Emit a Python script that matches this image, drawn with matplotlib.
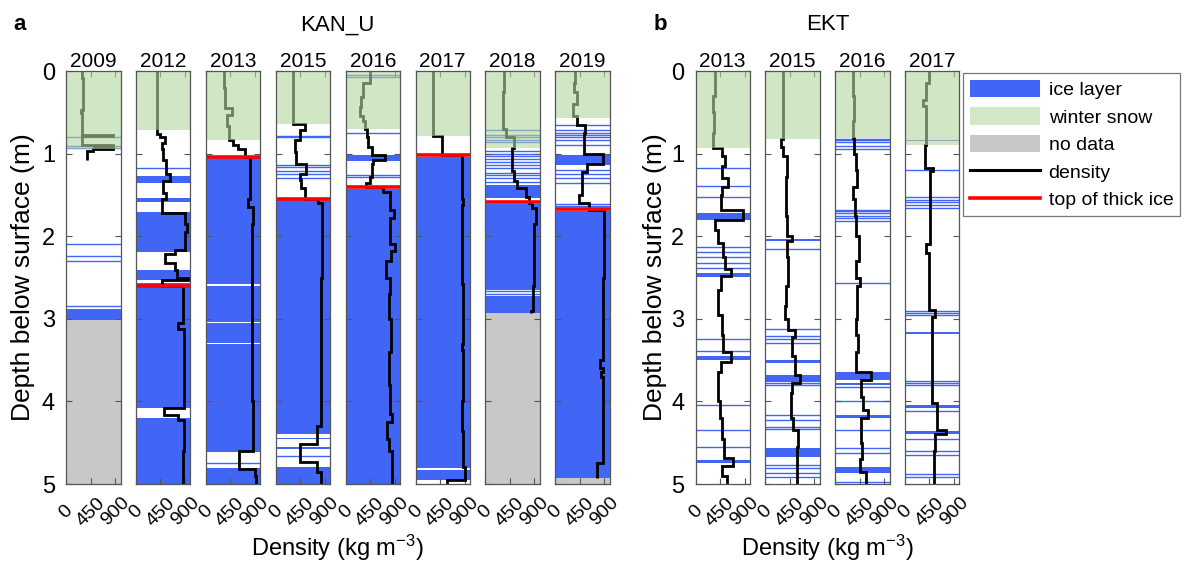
import matplotlib
matplotlib.use('Agg')
import matplotlib.pyplot as plt
import matplotlib.transforms as mtransforms
from matplotlib.patches import Patch
from matplotlib.lines import Line2D

plt.rcParams['font.family'] = ['Liberation Sans', 'DejaVu Sans']
plt.rcParams['mathtext.default'] = 'regular'

# ---------------- data ----------------
kan_years = ['2009', '2012', '2013', '2015', '2016', '2017', '2018', '2019']
kan_snow = [0.95, 0.71, 0.835, 0.64, 0.70, 0.79, 0.93, 0.565]
kan_thick_ice = [None, 2.60, 1.04, 1.55, 1.41, 1.02, 1.59, 1.675]
kan_nodata = [3.01, None, None, None, None, None, 2.93, 4.93]

kan2009_z = [0, 0.09, 0.19, 0.47, 0.51, 0.77, 0.79, 0.90, 0.915, 0.93, 0.95, 0.97, 1.08]
kan2009_rho = [293, 305, 317, 274, 300, 866, 300, 866, 520, 866, 500, 380]
kan2009_blocks = [[2.885, 3.01]]
kan2009_thin = [0.795, 0.905, 0.93, 2.09, 2.245, 2.30, 2.84]

kan2012_z = [0, 0.76, 0.80, 0.87, 0.95, 1.08, 1.25, 1.33, 1.48, 1.55, 1.72, 1.85, 1.95, 2.17,
             2.22, 2.33, 2.41, 2.50, 2.53, 2.60, 3.05, 3.12, 4.08, 4.16, 4.22, 4.6, 5.0]
kan2012_rho = [378, 440, 540, 470, 500, 560, 620, 490, 560, 470, 900, 930, 900, 720, 530, 720,
               760, 980, 470, 870, 770, 880, 520, 770, 880, 870]
kan2012_blocks = [[1.27, 1.35], [1.54, 1.59], [1.71, 2.19], [2.41, 2.53], [2.57, 2.59], [2.62, 4.08], [4.20, 5.0]]
kan2012_thin = [1.17]

kan2013_z = [0, 0.2, 0.45, 0.53, 0.66, 0.83, 0.9, 0.95, 1.04, 1.55, 1.65, 1.85, 3.0, 4.0, 4.6, 4.82, 4.9, 5.0]
kan2013_rho = [330, 345, 480, 390, 420, 500, 590, 720, 810, 780, 870, 850, 840, 860, 610, 900, 920]
kan2013_blocks = [[1.05, 2.58], [2.60, 3.04], [3.055, 3.29], [3.305, 4.61], [4.81, 5.0]]
kan2013_thin = [4.745]

kan2015_z = [0, 0.64, 0.72, 0.84, 0.98, 1.12, 1.25, 1.32, 1.42, 1.55, 1.6, 2.5, 3.2, 4.3, 4.52, 4.73, 4.85, 5.0]
kan2015_rho = [323, 540, 445, 360, 380, 560, 440, 470, 530, 780, 850, 840, 830, 750, 450, 760, 830]
kan2015_blocks = [[1.56, 4.40], [4.44, 4.46], [4.55, 4.58], [4.80, 5.0]]
kan2015_thin = [0.785, 0.80, 1.135, 1.165, 1.205, 1.245, 1.295, 4.66]

kan2016_z = [0, 0.15, 0.31, 0.43, 0.55, 0.61, 0.70, 0.80, 0.92, 1.02, 1.08, 1.13, 1.28, 1.36, 1.41,
             1.47, 1.68, 1.78, 2.10, 2.18, 2.30, 2.50, 2.70, 3.0, 3.4, 3.8, 4.15, 4.25, 4.45, 4.60, 5.0]
kan2016_rho = [450, 325, 290, 260, 320, 350, 390, 420, 480, 720, 510, 480, 450, 370, 690, 810, 880,
               820, 900, 840, 750, 820, 800, 830, 790, 820, 850, 760, 800, 850]
kan2016_blocks = [[1.02, 1.09], [1.43, 5.0]]
kan2016_thin = [0.045, 0.075, 0.755, 1.265, 1.285]

kan2017_z = [0, 0.79, 1.02, 1.55, 1.62, 2.5, 2.58, 3.3, 3.38, 4.0, 4.3, 4.36, 4.8, 4.95, 5.0]
kan2017_rho = [315, 485, 860, 880, 860, 850, 880, 860, 880, 860, 850, 880, 900, 570]
kan2017_blocks = [[1.04, 4.81], [4.835, 4.95]]
kan2017_thin = []

kan2018_z = [0, 0.25, 0.7, 0.8, 0.93, 1.21, 1.33, 1.42, 1.52, 1.60, 1.66, 1.85, 2.6, 2.9, 2.93]
kan2018_rho = [337, 330, 370, 520, 490, 530, 580, 740, 800, 860, 920, 890, 870, 840]
kan2018_blocks = [[1.38, 1.54], [1.61, 2.65], [2.72, 2.93]]
kan2018_thin = [0.71, 0.77, 0.80, 0.83, 0.86, 0.97, 1.0, 1.03, 1.06, 1.10, 1.14, 1.18,
                1.23, 1.26, 1.30, 1.34, 2.665, 2.695]

kan2019_z = [0, 0.15, 0.25, 0.40, 0.55, 0.65, 0.75, 1.0, 1.12, 1.22, 1.50, 1.60, 1.68, 2.5,
             3.5, 3.6, 3.65, 3.7, 4.75, 4.93]
kan2019_rho = [368, 340, 400, 330, 390, 550, 520, 880, 580, 490, 440, 620, 890, 880, 820, 870, 830, 880, 770]
kan2019_blocks = [[1.02, 1.14], [1.69, 4.93]]
kan2019_thin = [0.65, 0.71, 0.75, 0.77, 0.80, 0.83, 0.89, 1.20, 1.25, 1.29, 1.35, 1.61, 1.63]

ekt_years = ['2013', '2015', '2016', '2017']
ekt_snow = [0.93, 0.82, 0.815, 0.90]

ekt2013_z = [0, 0.3, 0.5, 0.75, 0.93, 1.03, 1.15, 1.3, 1.4, 1.5, 1.68, 1.8, 1.92, 2.08, 2.25, 2.4,
             2.48, 2.65, 2.95, 3.2, 3.4, 3.52, 3.65, 4.0, 4.2, 4.45, 4.68, 4.78, 4.9, 5.0]
ekt2013_rho = [350, 330, 340, 330, 480, 540, 480, 600, 480, 460, 880, 360, 410, 500, 550, 660, 460,
               420, 480, 510, 660, 460, 420, 450, 490, 520, 680, 480, 570]
ekt2013_blocks = [[1.72, 1.80], [2.44, 2.49], [3.45, 3.50], [4.71, 4.75]]
ekt2013_thin = [1.17, 1.39, 1.52, 2.13, 2.19, 2.25, 2.32, 2.39, 3.25, 3.39, 4.04, 4.35, 4.55]

ekt2015_z = [0, 0.82, 0.92, 1.03, 1.28, 1.75, 2.0, 2.06, 2.25, 2.6, 2.85, 3.0, 3.13, 3.22, 3.45,
             3.68, 3.78, 3.9, 4.2, 4.35, 4.55, 5.0]
ekt2015_rho = [333, 280, 330, 400, 380, 400, 490, 400, 420, 380, 360, 420, 540, 490, 540, 640, 490,
               470, 500, 600, 580]
ekt2015_blocks = [[2.03, 2.06], [3.50, 3.53], [3.68, 3.76], [4.57, 4.67]]
ekt2015_thin = [2.15, 3.12, 3.21, 3.24, 3.29, 3.78, 3.80, 4.16, 4.22, 4.31, 4.33, 4.77, 4.81, 4.87, 4.92]

ekt2016_z = [0, 0.3, 0.6, 0.81, 1.0, 1.2, 1.4, 1.55, 1.75, 2.0, 2.3, 2.5, 2.6, 3.0, 3.2, 3.4, 3.64,
             3.74, 3.95, 4.1, 4.2, 4.5, 4.7, 4.85, 5.0]
ekt2016_rho = [320, 340, 330, 350, 380, 400, 330, 360, 380, 430, 380, 450, 400, 380, 420, 380, 660,
               470, 520, 600, 480, 500, 460, 560]
ekt2016_blocks = [[3.64, 3.74], [3.78, 3.80], [4.17, 4.20], [4.80, 4.87]]
ekt2016_thin = [0.82, 0.84, 0.86, 0.91, 0.94, 1.68, 1.70, 1.72, 1.75, 1.78, 1.81, 2.57, 3.83,
                4.0, 4.35, 4.57, 4.62, 4.97]

ekt2017_z = [0, 0.15, 0.35, 0.42, 0.9, 1.18, 1.21, 2.1, 2.2, 2.89, 2.98, 4.02, 4.35, 4.40, 4.6, 5.0]
ekt2017_rho = [450, 380, 330, 380, 360, 520, 460, 380, 450, 550, 490, 580, 760, 560, 540]
ekt2017_blocks = [[0.83, 0.85], [3.16, 3.19], [4.04, 4.08], [4.36, 4.40]]
ekt2017_thin = [1.2, 1.53, 1.56, 1.58, 1.62, 1.66, 2.90, 2.93, 2.96, 3.75, 3.78, 3.80, 4.12,
                4.45, 4.60, 4.65, 4.88, 4.92]

kan_profiles = [(kan2009_z, kan2009_rho, kan2009_blocks, kan2009_thin),
                (kan2012_z, kan2012_rho, kan2012_blocks, kan2012_thin),
                (kan2013_z, kan2013_rho, kan2013_blocks, kan2013_thin),
                (kan2015_z, kan2015_rho, kan2015_blocks, kan2015_thin),
                (kan2016_z, kan2016_rho, kan2016_blocks, kan2016_thin),
                (kan2017_z, kan2017_rho, kan2017_blocks, kan2017_thin),
                (kan2018_z, kan2018_rho, kan2018_blocks, kan2018_thin),
                (kan2019_z, kan2019_rho, kan2019_blocks, kan2019_thin)]
ekt_profiles = [(ekt2013_z, ekt2013_rho, ekt2013_blocks, ekt2013_thin),
                (ekt2015_z, ekt2015_rho, ekt2015_blocks, ekt2015_thin),
                (ekt2016_z, ekt2016_rho, ekt2016_blocks, ekt2016_thin),
                (ekt2017_z, ekt2017_rho, ekt2017_blocks, ekt2017_thin)]

# ---------------- style ----------------
W, H = 1198, 569
ICE = '#4166f5'
SNOW = '#b2d69e'
SNOW_ALPHA = 0.6
GRAY = '#c8c8c8'
SPINE = '#555555'
TOP_PX, BOT_PX = 71, 484
PANEL_W = 54.5

fig = plt.figure(figsize=(W / 100, H / 100), dpi=100)
label_shift = mtransforms.ScaledTranslation(-3 / 100, 0, fig.dpi_scale_trans)


def add_panel(left_px, year, prof, snow, top_ice, nodata, first):
    z, rho, blocks, thin = prof
    ax = fig.add_axes([left_px / W, 1 - BOT_PX / H, PANEL_W / W, (BOT_PX - TOP_PX) / H])
    for a, b in blocks:
        ax.axhspan(a, b, facecolor=ICE, edgecolor='none', lw=0, zorder=1)
    for d in thin:
        ax.axhline(d, color=ICE, lw=1.0, zorder=1)
    if nodata is not None:
        ax.axhspan(nodata, 5, facecolor=GRAY, edgecolor='none', lw=0, zorder=1)
    ax.stairs(rho, z, orientation='horizontal', baseline=None, color='k', lw=2.0, zorder=2)
    ax.axhspan(0, snow, facecolor=SNOW, edgecolor='none', alpha=SNOW_ALPHA, lw=0, zorder=3)
    if top_ice is not None:
        ax.axhline(top_ice, color='#ff0000', lw=2.6, zorder=4)
    ax.set_xlim(0, 1000)
    ax.set_ylim(5, 0)
    ax.set_xticks([0, 450, 900])
    ax.set_xticklabels(['0', '450', '900'], rotation=45, ha='center', va='center',
                       rotation_mode='anchor', fontsize=14)
    for lab in ax.get_xticklabels():
        lab.set_transform(lab.get_transform() + label_shift)
    ax.set_yticks([0, 1, 2, 3, 4, 5])
    if first:
        ax.set_yticklabels(['0', '1', '2', '3', '4', '5'], fontsize=17)
    else:
        ax.set_yticklabels([])
    ax.tick_params(axis='both', direction='in', length=4, width=0.8, color=SPINE,
                   top=True, right=True)
    ax.tick_params(axis='x', pad=20)
    ax.tick_params(axis='y', pad=8)
    for s in ax.spines.values():
        s.set_color(SPINE)
        s.set_linewidth(0.9)
        s.set_zorder(5)
    ax.set_title(year, fontsize=15, pad=3)
    return ax


kan_left = [66 + 69.9 * i for i in range(len(kan_years))]
for i, yr in enumerate(kan_years):
    add_panel(kan_left[i], yr, kan_profiles[i], kan_snow[i], kan_thick_ice[i], kan_nodata[i], i == 0)

ekt_left = [695.5 + 69.8 * i for i in range(len(ekt_years))]
for i, yr in enumerate(ekt_years):
    add_panel(ekt_left[i], yr, ekt_profiles[i], ekt_snow[i], None, None, i == 0)

# group labels
fig.text(337.75 / W, 1 - 25 / H, 'KAN_U', ha='center', va='center', fontsize=16)
fig.text(827.5 / W, 1 - 25 / H, 'EKT', ha='center', va='center', fontsize=16)
fig.text(20 / W, 1 - 25 / H, 'a', ha='center', va='center', fontsize=16, fontweight='bold')
fig.text(660 / W, 1 - 25 / H, 'b', ha='center', va='center', fontsize=16, fontweight='bold')
fig.text(23 / W, 1 - 277 / H, 'Depth below surface (m)', rotation=90, ha='center', va='center', fontsize=19)
fig.text(655 / W, 1 - 277 / H, 'Depth below surface (m)', rotation=90, ha='center', va='center', fontsize=19)
fig.text(337.75 / W, 1 - 548 / H, 'Density (kg m$^{-3}$)', ha='center', va='center', fontsize=17)
fig.text(827.5 / W, 1 - 548 / H, 'Density (kg m$^{-3}$)', ha='center', va='center', fontsize=17)

handles = [Patch(facecolor=ICE, edgecolor='none'),
           Patch(facecolor='#d3e6c8', edgecolor='none'),
           Patch(facecolor=GRAY, edgecolor='none'),
           Line2D([], [], color='k', lw=2.2),
           Line2D([], [], color='#ff0000', lw=2.6)]
labels = ['ice layer', 'winter snow', 'no data', 'density', 'top of thick ice']
leg = fig.legend(handles, labels, loc='upper left', bbox_to_anchor=(963 / W, 1 - 73 / H),
                 bbox_transform=fig.transFigure, borderaxespad=0, frameon=True, fancybox=False,
                 edgecolor=SPINE, fontsize=14, handlelength=3.6, handleheight=1.0,
                 labelspacing=0.42, handletextpad=0.45, borderpad=0.35)
leg.get_frame().set_linewidth(0.9)

fig.savefig('out.png', dpi=100)
